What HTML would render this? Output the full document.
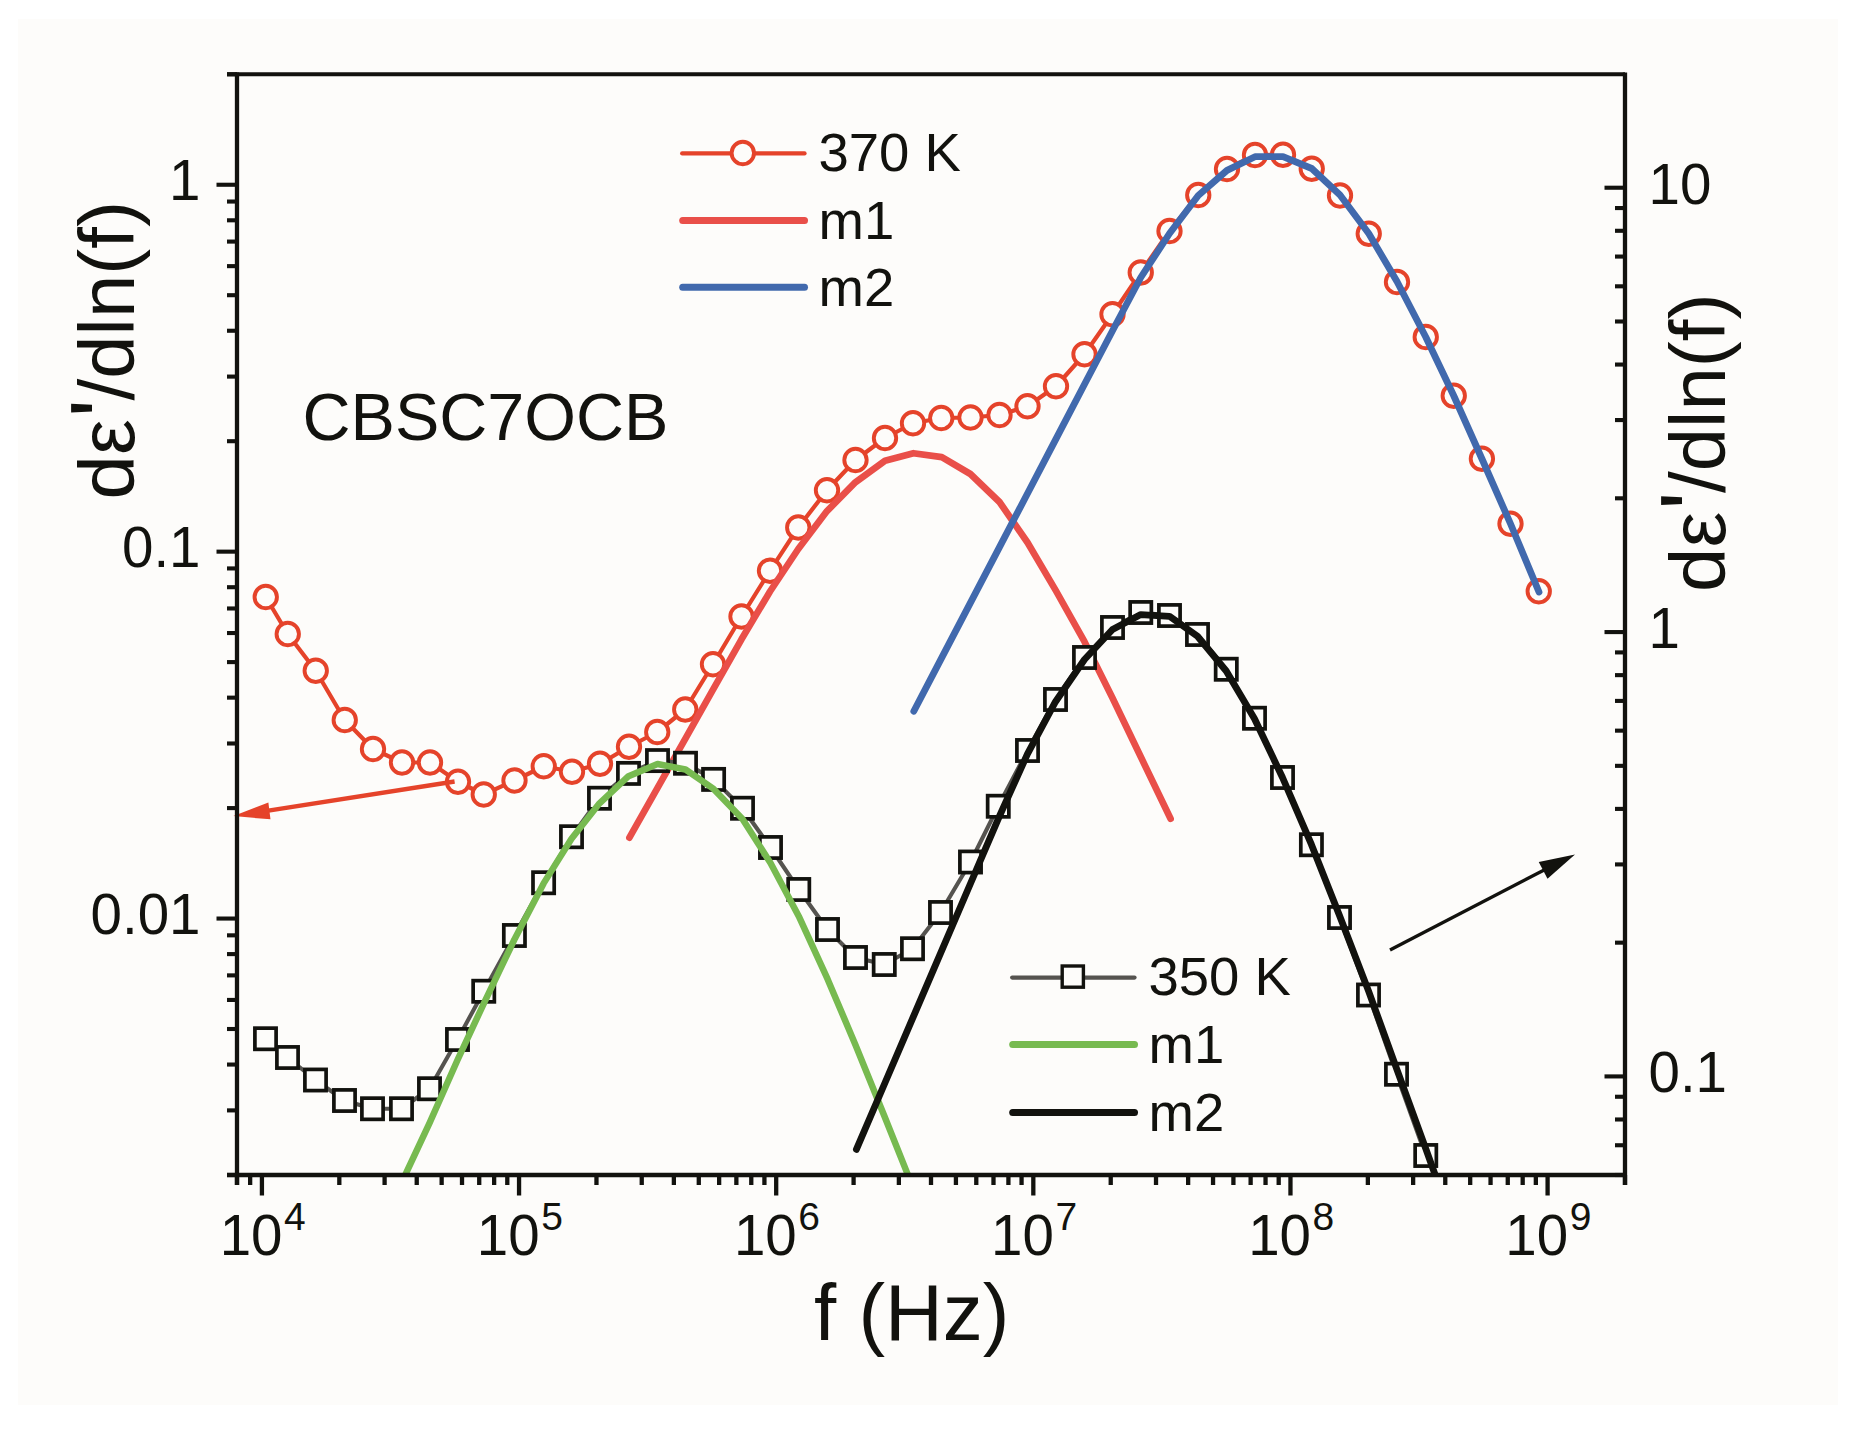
<!DOCTYPE html>
<html lang="en"><head><meta charset="utf-8"><title>CBSC7OCB dielectric derivative spectra</title>
<style>html,body{margin:0;padding:0;background:#fff}body{width:1857px;height:1433px;overflow:hidden}svg{display:block}</style>
</head><body>
<svg width="1857" height="1433" viewBox="0 0 1857 1433" font-family="'Liberation Sans', sans-serif" fill="#12120e">
<rect x="0" y="0" width="1857" height="1433" fill="#ffffff"/>
<rect x="18" y="19" width="1820" height="1386" fill="#fdfcfa"/>
<defs><clipPath id="pc"><rect x="237.0" y="74.3" width="1388.0" height="1100.7"/></clipPath></defs>
<g clip-path="url(#pc)" fill="none" stroke-linecap="round" stroke-linejoin="round">
<polyline points="265.75,597 287.75,634 315.75,670.75 344.75,720 373,749 402,762.5 430,762.5 458,781.75 483.75,794.5 514.5,780.5 543.75,766.25 572,771.75 600,763.75 629,746.75 657.25,732 685.25,709.5 713,664.25 741.5,616.5 770,570.75 798.25,527.5 827,490.25 855.5,460 885,438 913,423.25 941.25,418 970.5,417.5 999.5,415 1027.5,406.25 1056,386.25 1084.5,354.25 1112.5,314.25 1140.75,272.5 1169.5,231 1198.25,195 1227,169 1255,155 1283,154.75 1311.75,168.75 1340,195.5 1368.75,233.75 1397,282 1425.75,337 1453.75,395.75 1481.9,458.75 1510.5,523.75 1538.75,591.25" stroke="#e5432a" stroke-width="4.2"/>
<circle cx="265.75" cy="597" r="11.2" fill="#fdfcfa" stroke="#e5432a" stroke-width="3.9"/>
<circle cx="287.75" cy="634" r="11.2" fill="#fdfcfa" stroke="#e5432a" stroke-width="3.9"/>
<circle cx="315.75" cy="670.75" r="11.2" fill="#fdfcfa" stroke="#e5432a" stroke-width="3.9"/>
<circle cx="344.75" cy="720" r="11.2" fill="#fdfcfa" stroke="#e5432a" stroke-width="3.9"/>
<circle cx="373" cy="749" r="11.2" fill="#fdfcfa" stroke="#e5432a" stroke-width="3.9"/>
<circle cx="402" cy="762.5" r="11.2" fill="#fdfcfa" stroke="#e5432a" stroke-width="3.9"/>
<circle cx="430" cy="762.5" r="11.2" fill="#fdfcfa" stroke="#e5432a" stroke-width="3.9"/>
<circle cx="458" cy="781.75" r="11.2" fill="#fdfcfa" stroke="#e5432a" stroke-width="3.9"/>
<circle cx="483.75" cy="794.5" r="11.2" fill="#fdfcfa" stroke="#e5432a" stroke-width="3.9"/>
<circle cx="514.5" cy="780.5" r="11.2" fill="#fdfcfa" stroke="#e5432a" stroke-width="3.9"/>
<circle cx="543.75" cy="766.25" r="11.2" fill="#fdfcfa" stroke="#e5432a" stroke-width="3.9"/>
<circle cx="572" cy="771.75" r="11.2" fill="#fdfcfa" stroke="#e5432a" stroke-width="3.9"/>
<circle cx="600" cy="763.75" r="11.2" fill="#fdfcfa" stroke="#e5432a" stroke-width="3.9"/>
<circle cx="629" cy="746.75" r="11.2" fill="#fdfcfa" stroke="#e5432a" stroke-width="3.9"/>
<circle cx="657.25" cy="732" r="11.2" fill="#fdfcfa" stroke="#e5432a" stroke-width="3.9"/>
<circle cx="685.25" cy="709.5" r="11.2" fill="#fdfcfa" stroke="#e5432a" stroke-width="3.9"/>
<circle cx="713" cy="664.25" r="11.2" fill="#fdfcfa" stroke="#e5432a" stroke-width="3.9"/>
<circle cx="741.5" cy="616.5" r="11.2" fill="#fdfcfa" stroke="#e5432a" stroke-width="3.9"/>
<circle cx="770" cy="570.75" r="11.2" fill="#fdfcfa" stroke="#e5432a" stroke-width="3.9"/>
<circle cx="798.25" cy="527.5" r="11.2" fill="#fdfcfa" stroke="#e5432a" stroke-width="3.9"/>
<circle cx="827" cy="490.25" r="11.2" fill="#fdfcfa" stroke="#e5432a" stroke-width="3.9"/>
<circle cx="855.5" cy="460" r="11.2" fill="#fdfcfa" stroke="#e5432a" stroke-width="3.9"/>
<circle cx="885" cy="438" r="11.2" fill="#fdfcfa" stroke="#e5432a" stroke-width="3.9"/>
<circle cx="913" cy="423.25" r="11.2" fill="#fdfcfa" stroke="#e5432a" stroke-width="3.9"/>
<circle cx="941.25" cy="418" r="11.2" fill="#fdfcfa" stroke="#e5432a" stroke-width="3.9"/>
<circle cx="970.5" cy="417.5" r="11.2" fill="#fdfcfa" stroke="#e5432a" stroke-width="3.9"/>
<circle cx="999.5" cy="415" r="11.2" fill="#fdfcfa" stroke="#e5432a" stroke-width="3.9"/>
<circle cx="1027.5" cy="406.25" r="11.2" fill="#fdfcfa" stroke="#e5432a" stroke-width="3.9"/>
<circle cx="1056" cy="386.25" r="11.2" fill="#fdfcfa" stroke="#e5432a" stroke-width="3.9"/>
<circle cx="1084.5" cy="354.25" r="11.2" fill="#fdfcfa" stroke="#e5432a" stroke-width="3.9"/>
<circle cx="1112.5" cy="314.25" r="11.2" fill="#fdfcfa" stroke="#e5432a" stroke-width="3.9"/>
<circle cx="1140.75" cy="272.5" r="11.2" fill="#fdfcfa" stroke="#e5432a" stroke-width="3.9"/>
<circle cx="1169.5" cy="231" r="11.2" fill="#fdfcfa" stroke="#e5432a" stroke-width="3.9"/>
<circle cx="1198.25" cy="195" r="11.2" fill="#fdfcfa" stroke="#e5432a" stroke-width="3.9"/>
<circle cx="1227" cy="169" r="11.2" fill="#fdfcfa" stroke="#e5432a" stroke-width="3.9"/>
<circle cx="1255" cy="155" r="11.2" fill="#fdfcfa" stroke="#e5432a" stroke-width="3.9"/>
<circle cx="1283" cy="154.75" r="11.2" fill="#fdfcfa" stroke="#e5432a" stroke-width="3.9"/>
<circle cx="1311.75" cy="168.75" r="11.2" fill="#fdfcfa" stroke="#e5432a" stroke-width="3.9"/>
<circle cx="1340" cy="195.5" r="11.2" fill="#fdfcfa" stroke="#e5432a" stroke-width="3.9"/>
<circle cx="1368.75" cy="233.75" r="11.2" fill="#fdfcfa" stroke="#e5432a" stroke-width="3.9"/>
<circle cx="1397" cy="282" r="11.2" fill="#fdfcfa" stroke="#e5432a" stroke-width="3.9"/>
<circle cx="1425.75" cy="337" r="11.2" fill="#fdfcfa" stroke="#e5432a" stroke-width="3.9"/>
<circle cx="1453.75" cy="395.75" r="11.2" fill="#fdfcfa" stroke="#e5432a" stroke-width="3.9"/>
<circle cx="1481.9" cy="458.75" r="11.2" fill="#fdfcfa" stroke="#e5432a" stroke-width="3.9"/>
<circle cx="1510.5" cy="523.75" r="11.2" fill="#fdfcfa" stroke="#e5432a" stroke-width="3.9"/>
<circle cx="1538.75" cy="591.25" r="11.2" fill="#fdfcfa" stroke="#e5432a" stroke-width="3.9"/>
<polyline points="629.4,837.7 657.25,788.4 685.25,738.8 713,689.7 741.5,639.3 770,591.5 798.25,549 827,511.1 855.5,482.2 885,460.8 913.4,453.2 941.8,457.1 970.4,474 999.5,502 1027.5,542.5 1056,590.9 1084.5,641.7 1112.5,698 1140.75,756.8 1170.6,818.8" stroke="#e94f49" stroke-width="6.7"/>
<polyline points="913.8,711.2 941.25,658.6 970.5,602.6 999.5,547.1 1027.5,493.5 1056,438.9 1084.5,384.3 1112.5,330.7 1140.75,277.5 1169.5,233.5 1198.25,195.5 1227,170.4 1255,156.7 1283,156.7 1311.75,168.5 1340,195 1368.75,233.5 1397,281.5 1425.75,337 1453.75,395.75 1481.9,458.75 1510.5,523.75 1539,592" stroke="#4169ad" stroke-width="6.8"/>
<polyline points="265.5,1038.75 287.5,1057.5 315.5,1080 344.5,1100.5 372.5,1108.75 401.5,1108.75 429.5,1088.75 457.5,1039.5 483.75,991.25 514.4,935.5 543.6,882.75 571.5,836.75 599.5,798.25 628.5,773.4 657.5,760.6 685.5,763.25 713.6,779.4 742.5,808.25 770.5,847.5 798.75,889.5 827.5,929.5 855.5,957.5 884.25,964.5 912.5,948.75 940.5,912.5 970.5,862 998.25,806.25 1027.5,750.5 1055.5,699.5 1084.5,657.5 1112.5,627.5 1140.75,612.5 1169.5,615.5 1197.5,634.5 1226.25,669.25 1254.5,718.25 1282.5,777.5 1311.4,844.75 1339.5,917.5 1368.5,995 1396.5,1074.25 1425.75,1155.5" stroke="#55534f" stroke-width="4.1"/>
<rect x="254.90" y="1028.15" width="21.2" height="21.2" fill="#fdfcfa" stroke="#12120e" stroke-width="3.7" stroke-linejoin="miter"/>
<rect x="276.90" y="1046.90" width="21.2" height="21.2" fill="#fdfcfa" stroke="#12120e" stroke-width="3.7" stroke-linejoin="miter"/>
<rect x="304.90" y="1069.40" width="21.2" height="21.2" fill="#fdfcfa" stroke="#12120e" stroke-width="3.7" stroke-linejoin="miter"/>
<rect x="333.90" y="1089.90" width="21.2" height="21.2" fill="#fdfcfa" stroke="#12120e" stroke-width="3.7" stroke-linejoin="miter"/>
<rect x="361.90" y="1098.15" width="21.2" height="21.2" fill="#fdfcfa" stroke="#12120e" stroke-width="3.7" stroke-linejoin="miter"/>
<rect x="390.90" y="1098.15" width="21.2" height="21.2" fill="#fdfcfa" stroke="#12120e" stroke-width="3.7" stroke-linejoin="miter"/>
<rect x="418.90" y="1078.15" width="21.2" height="21.2" fill="#fdfcfa" stroke="#12120e" stroke-width="3.7" stroke-linejoin="miter"/>
<rect x="446.90" y="1028.90" width="21.2" height="21.2" fill="#fdfcfa" stroke="#12120e" stroke-width="3.7" stroke-linejoin="miter"/>
<rect x="473.15" y="980.65" width="21.2" height="21.2" fill="#fdfcfa" stroke="#12120e" stroke-width="3.7" stroke-linejoin="miter"/>
<rect x="503.80" y="924.90" width="21.2" height="21.2" fill="#fdfcfa" stroke="#12120e" stroke-width="3.7" stroke-linejoin="miter"/>
<rect x="533.00" y="872.15" width="21.2" height="21.2" fill="#fdfcfa" stroke="#12120e" stroke-width="3.7" stroke-linejoin="miter"/>
<rect x="560.90" y="826.15" width="21.2" height="21.2" fill="#fdfcfa" stroke="#12120e" stroke-width="3.7" stroke-linejoin="miter"/>
<rect x="588.90" y="787.65" width="21.2" height="21.2" fill="#fdfcfa" stroke="#12120e" stroke-width="3.7" stroke-linejoin="miter"/>
<rect x="617.90" y="762.80" width="21.2" height="21.2" fill="#fdfcfa" stroke="#12120e" stroke-width="3.7" stroke-linejoin="miter"/>
<rect x="646.90" y="750.00" width="21.2" height="21.2" fill="#fdfcfa" stroke="#12120e" stroke-width="3.7" stroke-linejoin="miter"/>
<rect x="674.90" y="752.65" width="21.2" height="21.2" fill="#fdfcfa" stroke="#12120e" stroke-width="3.7" stroke-linejoin="miter"/>
<rect x="703.00" y="768.80" width="21.2" height="21.2" fill="#fdfcfa" stroke="#12120e" stroke-width="3.7" stroke-linejoin="miter"/>
<rect x="731.90" y="797.65" width="21.2" height="21.2" fill="#fdfcfa" stroke="#12120e" stroke-width="3.7" stroke-linejoin="miter"/>
<rect x="759.90" y="836.90" width="21.2" height="21.2" fill="#fdfcfa" stroke="#12120e" stroke-width="3.7" stroke-linejoin="miter"/>
<rect x="788.15" y="878.90" width="21.2" height="21.2" fill="#fdfcfa" stroke="#12120e" stroke-width="3.7" stroke-linejoin="miter"/>
<rect x="816.90" y="918.90" width="21.2" height="21.2" fill="#fdfcfa" stroke="#12120e" stroke-width="3.7" stroke-linejoin="miter"/>
<rect x="844.90" y="946.90" width="21.2" height="21.2" fill="#fdfcfa" stroke="#12120e" stroke-width="3.7" stroke-linejoin="miter"/>
<rect x="873.65" y="953.90" width="21.2" height="21.2" fill="#fdfcfa" stroke="#12120e" stroke-width="3.7" stroke-linejoin="miter"/>
<rect x="901.90" y="938.15" width="21.2" height="21.2" fill="#fdfcfa" stroke="#12120e" stroke-width="3.7" stroke-linejoin="miter"/>
<rect x="929.90" y="901.90" width="21.2" height="21.2" fill="#fdfcfa" stroke="#12120e" stroke-width="3.7" stroke-linejoin="miter"/>
<rect x="959.90" y="851.40" width="21.2" height="21.2" fill="#fdfcfa" stroke="#12120e" stroke-width="3.7" stroke-linejoin="miter"/>
<rect x="987.65" y="795.65" width="21.2" height="21.2" fill="#fdfcfa" stroke="#12120e" stroke-width="3.7" stroke-linejoin="miter"/>
<rect x="1016.90" y="739.90" width="21.2" height="21.2" fill="#fdfcfa" stroke="#12120e" stroke-width="3.7" stroke-linejoin="miter"/>
<rect x="1044.90" y="688.90" width="21.2" height="21.2" fill="#fdfcfa" stroke="#12120e" stroke-width="3.7" stroke-linejoin="miter"/>
<rect x="1073.90" y="646.90" width="21.2" height="21.2" fill="#fdfcfa" stroke="#12120e" stroke-width="3.7" stroke-linejoin="miter"/>
<rect x="1101.90" y="616.90" width="21.2" height="21.2" fill="#fdfcfa" stroke="#12120e" stroke-width="3.7" stroke-linejoin="miter"/>
<rect x="1130.15" y="601.90" width="21.2" height="21.2" fill="#fdfcfa" stroke="#12120e" stroke-width="3.7" stroke-linejoin="miter"/>
<rect x="1158.90" y="604.90" width="21.2" height="21.2" fill="#fdfcfa" stroke="#12120e" stroke-width="3.7" stroke-linejoin="miter"/>
<rect x="1186.90" y="623.90" width="21.2" height="21.2" fill="#fdfcfa" stroke="#12120e" stroke-width="3.7" stroke-linejoin="miter"/>
<rect x="1215.65" y="658.65" width="21.2" height="21.2" fill="#fdfcfa" stroke="#12120e" stroke-width="3.7" stroke-linejoin="miter"/>
<rect x="1243.90" y="707.65" width="21.2" height="21.2" fill="#fdfcfa" stroke="#12120e" stroke-width="3.7" stroke-linejoin="miter"/>
<rect x="1271.90" y="766.90" width="21.2" height="21.2" fill="#fdfcfa" stroke="#12120e" stroke-width="3.7" stroke-linejoin="miter"/>
<rect x="1300.80" y="834.15" width="21.2" height="21.2" fill="#fdfcfa" stroke="#12120e" stroke-width="3.7" stroke-linejoin="miter"/>
<rect x="1328.90" y="906.90" width="21.2" height="21.2" fill="#fdfcfa" stroke="#12120e" stroke-width="3.7" stroke-linejoin="miter"/>
<rect x="1357.90" y="984.40" width="21.2" height="21.2" fill="#fdfcfa" stroke="#12120e" stroke-width="3.7" stroke-linejoin="miter"/>
<rect x="1385.90" y="1063.65" width="21.2" height="21.2" fill="#fdfcfa" stroke="#12120e" stroke-width="3.7" stroke-linejoin="miter"/>
<rect x="1415.15" y="1144.90" width="21.2" height="21.2" fill="#fdfcfa" stroke="#12120e" stroke-width="3.7" stroke-linejoin="miter"/>
<polyline points="403,1180 406.9,1171.4 429.5,1123.1 457.5,1060 483.75,1003.6 514.4,939.5 543.6,883.4 571.5,838.8 599.5,803.3 628.5,776.2 657.5,764 685.5,769.5 713.6,788.9 742.5,819.1 770.5,862.9 798.75,916.2 827.5,978.9 855.5,1044.9 884.25,1115.8 906.5,1171.4 910,1180.2" stroke="#77ba50" stroke-width="6.5"/>
<polyline points="856.4,1149.4 884.25,1084.5 912.5,1018.7 940.5,953.4 970.5,883.5 998.25,818.9 1027.5,753.9 1055.5,701.7 1084.5,659.5 1112.5,629.5 1140.75,614.6 1169.5,616.3 1197.5,636.25 1226.25,671 1254.5,718.75 1282.5,777.5 1311.4,844.4 1339.5,915.6 1368.5,990.9 1396.5,1068.3 1425.75,1148.6 1437,1180" stroke="#12120e" stroke-width="6.8"/>
</g>
<line x1="454.6" y1="781.5" x2="262" y2="811.6" stroke="#e5432a" stroke-width="4.5"/>
<polygon points="233.4,816.1 268.4,802.5 270.5,819.3" fill="#e5432a"/>
<line x1="1390" y1="950" x2="1548" y2="868" stroke="#12120e" stroke-width="3.4"/>
<polygon points="1575,854.5 1538.75,862 1547.5,878.75" fill="#12120e"/>
<g stroke="#12120e" stroke-width="4.3" fill="none" stroke-linecap="butt">
<line x1="237.0" y1="72.39999999999999" x2="237.0" y2="1185.0"/>
<line x1="1625.0" y1="72.39999999999999" x2="1625.0" y2="1185.0"/>
<line x1="227.0" y1="74.3" x2="1625.0" y2="74.3" stroke-width="3.9"/>
<line x1="227.0" y1="1175.0" x2="1625.0" y2="1175.0"/>
<line x1="237.00" y1="1175.0" x2="237.00" y2="1185.0"/>
<line x1="250.15" y1="1175.0" x2="250.15" y2="1185.0"/>
<line x1="261.92" y1="1175.0" x2="261.92" y2="1195.5"/>
<line x1="339.32" y1="1175.0" x2="339.32" y2="1185.0"/>
<line x1="384.60" y1="1175.0" x2="384.60" y2="1185.0"/>
<line x1="416.73" y1="1175.0" x2="416.73" y2="1185.0"/>
<line x1="441.65" y1="1175.0" x2="441.65" y2="1185.0"/>
<line x1="462.01" y1="1175.0" x2="462.01" y2="1185.0"/>
<line x1="479.22" y1="1175.0" x2="479.22" y2="1185.0"/>
<line x1="494.14" y1="1175.0" x2="494.14" y2="1185.0"/>
<line x1="507.29" y1="1175.0" x2="507.29" y2="1185.0"/>
<line x1="519.05" y1="1175.0" x2="519.05" y2="1195.5"/>
<line x1="596.46" y1="1175.0" x2="596.46" y2="1185.0"/>
<line x1="641.74" y1="1175.0" x2="641.74" y2="1185.0"/>
<line x1="673.86" y1="1175.0" x2="673.86" y2="1185.0"/>
<line x1="698.78" y1="1175.0" x2="698.78" y2="1185.0"/>
<line x1="719.14" y1="1175.0" x2="719.14" y2="1185.0"/>
<line x1="736.36" y1="1175.0" x2="736.36" y2="1185.0"/>
<line x1="751.27" y1="1175.0" x2="751.27" y2="1185.0"/>
<line x1="764.42" y1="1175.0" x2="764.42" y2="1185.0"/>
<line x1="776.19" y1="1175.0" x2="776.19" y2="1195.5"/>
<line x1="853.59" y1="1175.0" x2="853.59" y2="1185.0"/>
<line x1="898.87" y1="1175.0" x2="898.87" y2="1185.0"/>
<line x1="931.00" y1="1175.0" x2="931.00" y2="1185.0"/>
<line x1="955.92" y1="1175.0" x2="955.92" y2="1185.0"/>
<line x1="976.28" y1="1175.0" x2="976.28" y2="1185.0"/>
<line x1="993.49" y1="1175.0" x2="993.49" y2="1185.0"/>
<line x1="1008.41" y1="1175.0" x2="1008.41" y2="1185.0"/>
<line x1="1021.56" y1="1175.0" x2="1021.56" y2="1185.0"/>
<line x1="1033.32" y1="1175.0" x2="1033.32" y2="1195.5"/>
<line x1="1110.73" y1="1175.0" x2="1110.73" y2="1185.0"/>
<line x1="1156.01" y1="1175.0" x2="1156.01" y2="1185.0"/>
<line x1="1188.14" y1="1175.0" x2="1188.14" y2="1185.0"/>
<line x1="1213.05" y1="1175.0" x2="1213.05" y2="1185.0"/>
<line x1="1233.41" y1="1175.0" x2="1233.41" y2="1185.0"/>
<line x1="1250.63" y1="1175.0" x2="1250.63" y2="1185.0"/>
<line x1="1265.54" y1="1175.0" x2="1265.54" y2="1185.0"/>
<line x1="1278.69" y1="1175.0" x2="1278.69" y2="1185.0"/>
<line x1="1290.46" y1="1175.0" x2="1290.46" y2="1195.5"/>
<line x1="1367.86" y1="1175.0" x2="1367.86" y2="1185.0"/>
<line x1="1413.14" y1="1175.0" x2="1413.14" y2="1185.0"/>
<line x1="1445.27" y1="1175.0" x2="1445.27" y2="1185.0"/>
<line x1="1470.19" y1="1175.0" x2="1470.19" y2="1185.0"/>
<line x1="1490.55" y1="1175.0" x2="1490.55" y2="1185.0"/>
<line x1="1507.76" y1="1175.0" x2="1507.76" y2="1185.0"/>
<line x1="1522.68" y1="1175.0" x2="1522.68" y2="1185.0"/>
<line x1="1535.83" y1="1175.0" x2="1535.83" y2="1185.0"/>
<line x1="1547.59" y1="1175.0" x2="1547.59" y2="1195.5"/>
<line x1="1625.00" y1="1175.0" x2="1625.00" y2="1185.0"/>
<line x1="237.0" y1="1175.00" x2="227.0" y2="1175.00" stroke-width="4.1"/>
<line x1="237.0" y1="1110.39" x2="227.0" y2="1110.39" stroke-width="4.1"/>
<line x1="237.0" y1="1064.55" x2="227.0" y2="1064.55" stroke-width="4.1"/>
<line x1="237.0" y1="1029.00" x2="227.0" y2="1029.00" stroke-width="4.1"/>
<line x1="237.0" y1="999.94" x2="227.0" y2="999.94" stroke-width="4.1"/>
<line x1="237.0" y1="975.38" x2="227.0" y2="975.38" stroke-width="4.1"/>
<line x1="237.0" y1="954.10" x2="227.0" y2="954.10" stroke-width="4.1"/>
<line x1="237.0" y1="935.34" x2="227.0" y2="935.34" stroke-width="4.1"/>
<line x1="237.0" y1="918.55" x2="216.5" y2="918.55" stroke-width="4.1"/>
<line x1="237.0" y1="808.10" x2="227.0" y2="808.10" stroke-width="4.1"/>
<line x1="237.0" y1="743.49" x2="227.0" y2="743.49" stroke-width="4.1"/>
<line x1="237.0" y1="697.65" x2="227.0" y2="697.65" stroke-width="4.1"/>
<line x1="237.0" y1="662.10" x2="227.0" y2="662.10" stroke-width="4.1"/>
<line x1="237.0" y1="633.04" x2="227.0" y2="633.04" stroke-width="4.1"/>
<line x1="237.0" y1="608.48" x2="227.0" y2="608.48" stroke-width="4.1"/>
<line x1="237.0" y1="587.20" x2="227.0" y2="587.20" stroke-width="4.1"/>
<line x1="237.0" y1="568.44" x2="227.0" y2="568.44" stroke-width="4.1"/>
<line x1="237.0" y1="551.65" x2="216.5" y2="551.65" stroke-width="4.1"/>
<line x1="237.0" y1="441.20" x2="227.0" y2="441.20" stroke-width="4.1"/>
<line x1="237.0" y1="376.59" x2="227.0" y2="376.59" stroke-width="4.1"/>
<line x1="237.0" y1="330.75" x2="227.0" y2="330.75" stroke-width="4.1"/>
<line x1="237.0" y1="295.20" x2="227.0" y2="295.20" stroke-width="4.1"/>
<line x1="237.0" y1="266.14" x2="227.0" y2="266.14" stroke-width="4.1"/>
<line x1="237.0" y1="241.58" x2="227.0" y2="241.58" stroke-width="4.1"/>
<line x1="237.0" y1="220.30" x2="227.0" y2="220.30" stroke-width="4.1"/>
<line x1="237.0" y1="201.54" x2="227.0" y2="201.54" stroke-width="4.1"/>
<line x1="237.0" y1="184.75" x2="216.5" y2="184.75" stroke-width="4.1"/>
<line x1="237.0" y1="74.30" x2="227.0" y2="74.30" stroke-width="4.1"/>
<line x1="1625.0" y1="1175.00" x2="1615.0" y2="1175.00" stroke-width="4.1"/>
<line x1="1625.0" y1="1145.25" x2="1615.0" y2="1145.25" stroke-width="4.1"/>
<line x1="1625.0" y1="1119.48" x2="1615.0" y2="1119.48" stroke-width="4.1"/>
<line x1="1625.0" y1="1096.75" x2="1615.0" y2="1096.75" stroke-width="4.1"/>
<line x1="1625.0" y1="1076.42" x2="1604.5" y2="1076.42" stroke-width="4.1"/>
<line x1="1625.0" y1="942.66" x2="1615.0" y2="942.66" stroke-width="4.1"/>
<line x1="1625.0" y1="864.42" x2="1615.0" y2="864.42" stroke-width="4.1"/>
<line x1="1625.0" y1="808.90" x2="1615.0" y2="808.90" stroke-width="4.1"/>
<line x1="1625.0" y1="765.84" x2="1615.0" y2="765.84" stroke-width="4.1"/>
<line x1="1625.0" y1="730.65" x2="1615.0" y2="730.65" stroke-width="4.1"/>
<line x1="1625.0" y1="700.91" x2="1615.0" y2="700.91" stroke-width="4.1"/>
<line x1="1625.0" y1="675.14" x2="1615.0" y2="675.14" stroke-width="4.1"/>
<line x1="1625.0" y1="652.41" x2="1615.0" y2="652.41" stroke-width="4.1"/>
<line x1="1625.0" y1="632.08" x2="1604.5" y2="632.08" stroke-width="4.1"/>
<line x1="1625.0" y1="498.31" x2="1615.0" y2="498.31" stroke-width="4.1"/>
<line x1="1625.0" y1="420.07" x2="1615.0" y2="420.07" stroke-width="4.1"/>
<line x1="1625.0" y1="364.55" x2="1615.0" y2="364.55" stroke-width="4.1"/>
<line x1="1625.0" y1="321.49" x2="1615.0" y2="321.49" stroke-width="4.1"/>
<line x1="1625.0" y1="286.31" x2="1615.0" y2="286.31" stroke-width="4.1"/>
<line x1="1625.0" y1="256.56" x2="1615.0" y2="256.56" stroke-width="4.1"/>
<line x1="1625.0" y1="230.79" x2="1615.0" y2="230.79" stroke-width="4.1"/>
<line x1="1625.0" y1="208.06" x2="1615.0" y2="208.06" stroke-width="4.1"/>
<line x1="1625.0" y1="187.73" x2="1604.5" y2="187.73" stroke-width="4.1"/>
</g>
<text x="219.7" y="1254.6" font-size="56.5">10<tspan dx="1.5" dy="-24.3" font-size="39">4</tspan></text>
<text x="476.8" y="1254.6" font-size="56.5">10<tspan dx="1.5" dy="-24.3" font-size="39">5</tspan></text>
<text x="733.9" y="1254.6" font-size="56.5">10<tspan dx="1.5" dy="-24.3" font-size="39">6</tspan></text>
<text x="991.1" y="1254.6" font-size="56.5">10<tspan dx="1.5" dy="-24.3" font-size="39">7</tspan></text>
<text x="1248.2" y="1254.6" font-size="56.5">10<tspan dx="1.5" dy="-24.3" font-size="39">8</tspan></text>
<text x="1505.3" y="1254.6" font-size="56.5">10<tspan dx="1.5" dy="-24.3" font-size="39">9</tspan></text>
<text x="200.5" y="200.4" font-size="56.5" text-anchor="end">1</text>
<text x="200.5" y="567.3" font-size="56.5" text-anchor="end">0.1</text>
<text x="200.5" y="934.2" font-size="56.5" text-anchor="end">0.01</text>
<text x="1648.5" y="203.5" font-size="56.5">10</text>
<text x="1648.5" y="647.9" font-size="56.5">1</text>
<text x="1648.5" y="1092.2" font-size="56.5">0.1</text>
<g transform="translate(134,499.8) rotate(-90)" font-size="78"><text x="0" y="0" textLength="80.5" lengthAdjust="spacingAndGlyphs">dε</text><text x="82.6" y="3.8" font-size="96">'</text><text x="99.3" y="0">/dln(f)</text></g>
<g transform="translate(1724.5,592.3) rotate(-90)" font-size="78"><text x="0" y="0" textLength="80.5" lengthAdjust="spacingAndGlyphs">dε</text><text x="82.6" y="3.8" font-size="96">'</text><text x="99.3" y="0">/dln(f)</text></g>
<text x="814" y="1339.5" font-size="80">f (Hz)</text>
<text x="302.5" y="439.7" font-size="66.5">CBSC7OCB</text>
<line x1="682.2" y1="153.4" x2="804.5" y2="153.4" stroke="#e5432a" stroke-width="4.3" stroke-linecap="round"/>
<circle cx="742.8" cy="153.0" r="11.2" fill="#fdfcfa" stroke="#e5432a" stroke-width="3.9"/>
<text x="818.5" y="171.3" font-size="54.5">370 K</text>
<line x1="682.7" y1="220.4" x2="804.5" y2="220.4" stroke="#e94f49" stroke-width="7" stroke-linecap="round"/>
<text x="818.5" y="239.1" font-size="54.5">m1</text>
<line x1="682.7" y1="287.2" x2="804.5" y2="287.2" stroke="#4169ad" stroke-width="7" stroke-linecap="round"/>
<text x="818.5" y="306.3" font-size="54.5">m2</text>
<line x1="1012.2" y1="977.6" x2="1134.5" y2="977.6" stroke="#55534f" stroke-width="4.3" stroke-linecap="round"/>
<rect x="1062.2" y="966.0" width="21.2" height="21.2" fill="#fdfcfa" stroke="#12120e" stroke-width="3.4"/>
<text x="1148.5" y="995.4" font-size="54.5">350 K</text>
<line x1="1012.7" y1="1044.4" x2="1134.5" y2="1044.4" stroke="#77ba50" stroke-width="7" stroke-linecap="round"/>
<text x="1148.5" y="1062.7" font-size="54.5">m1</text>
<line x1="1012.7" y1="1112.5" x2="1134.5" y2="1112.5" stroke="#12120e" stroke-width="7" stroke-linecap="round"/>
<text x="1148.5" y="1130.5" font-size="54.5">m2</text>
</svg>
</body></html>
